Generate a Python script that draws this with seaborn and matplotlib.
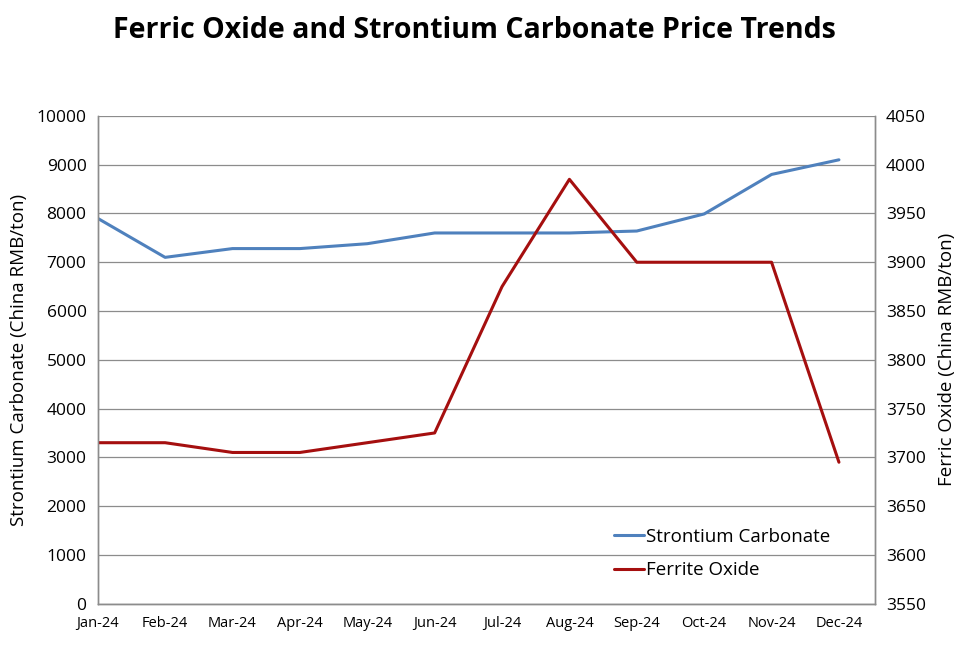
import numpy as np
import pandas as pd
import matplotlib
matplotlib.use("Agg")
import matplotlib.pyplot as plt
import seaborn as sns

months = ["Jan-24", "Feb-24", "Mar-24", "Apr-24", "May-24", "Jun-24",
          "Jul-24", "Aug-24", "Sep-24", "Oct-24", "Nov-24", "Dec-24"]
strontium = [7900, 7100, 7280, 7280, 7380, 7600, 7600, 7600, 7640, 7990, 8800, 9100]
ferric = [3715, 3715, 3705, 3705, 3715, 3725, 3875, 3985, 3900, 3900, 3900, 3695]

left_ticks = list(range(0, 10001, 1000))
right_ticks = list(range(3550, 4051, 50))

sns.set_style("white")
plt.rcParams['font.family'] = ['Open Sans', 'DejaVu Sans']
plt.rcParams['text.color'] = 'black'
plt.rcParams['axes.labelcolor'] = 'black'
plt.rcParams['xtick.color'] = 'black'
plt.rcParams['ytick.color'] = 'black'

df = pd.DataFrame({"idx": np.arange(len(months)), "sr": strontium, "fe": ferric})

fig = plt.figure(figsize=(9.58, 6.70), dpi=100)
ax = fig.add_axes([0.102, 0.099, 0.811, 0.728])
ax2 = ax.twinx()

sns.lineplot(data=df, x="idx", y="sr", ax=ax, color="#4F81BD", lw=2.2, label="Strontium Carbonate", legend=False)
sns.lineplot(data=df, x="idx", y="fe", ax=ax2, color="#A50F0F", lw=2.2, label="Ferrite Oxide", legend=False)

ax.set_xlim(0, 11.53)
ax.set_ylim(0, 10000)
ax2.set_ylim(3550, 4050)
ax.set_yticks(left_ticks)
ax2.set_yticks(right_ticks)
ax.set_xticks(range(len(months)))
ax.set_xticklabels(months, fontsize=10.5)
ax.tick_params(axis="y", labelsize=12.5, length=0, pad=8)
ax2.tick_params(axis="y", labelsize=12.5, length=0, pad=8)
ax.tick_params(axis="x", length=5, width=1, color="#888888", direction="out", pad=4)
ax.yaxis.grid(True, color="#8c8c8c", lw=0.9)
ax.set_axisbelow(True)

for a in (ax, ax2):
    a.spines["top"].set_visible(False)
    for s in ("left", "bottom", "right"):
        a.spines[s].set_color("#8c8c8c")
        a.spines[s].set_linewidth(1)

ax.set_xlabel("")
ax.set_ylabel("Strontium Carbonate (China RMB/ton)", fontsize=13.5, labelpad=6)
ax2.set_ylabel("Ferric Oxide (China RMB/ton)", fontsize=13.5, labelpad=9)

h1, l1 = ax.get_legend_handles_labels()
h2, l2 = ax2.get_legend_handles_labels()
ax2.legend(h1 + h2, l1 + l2, loc="lower right", bbox_to_anchor=(0.965, 0.015), frameon=False,
           fontsize=13.5, handlelength=1.6, handletextpad=0.1, labelspacing=0.85)

fig.text(0.495, 0.955, "Ferric Oxide and Strontium Carbonate Price Trends",
         ha="center", va="center", fontsize=20.5, fontweight="bold")

fig.savefig("out.png", dpi=100)
